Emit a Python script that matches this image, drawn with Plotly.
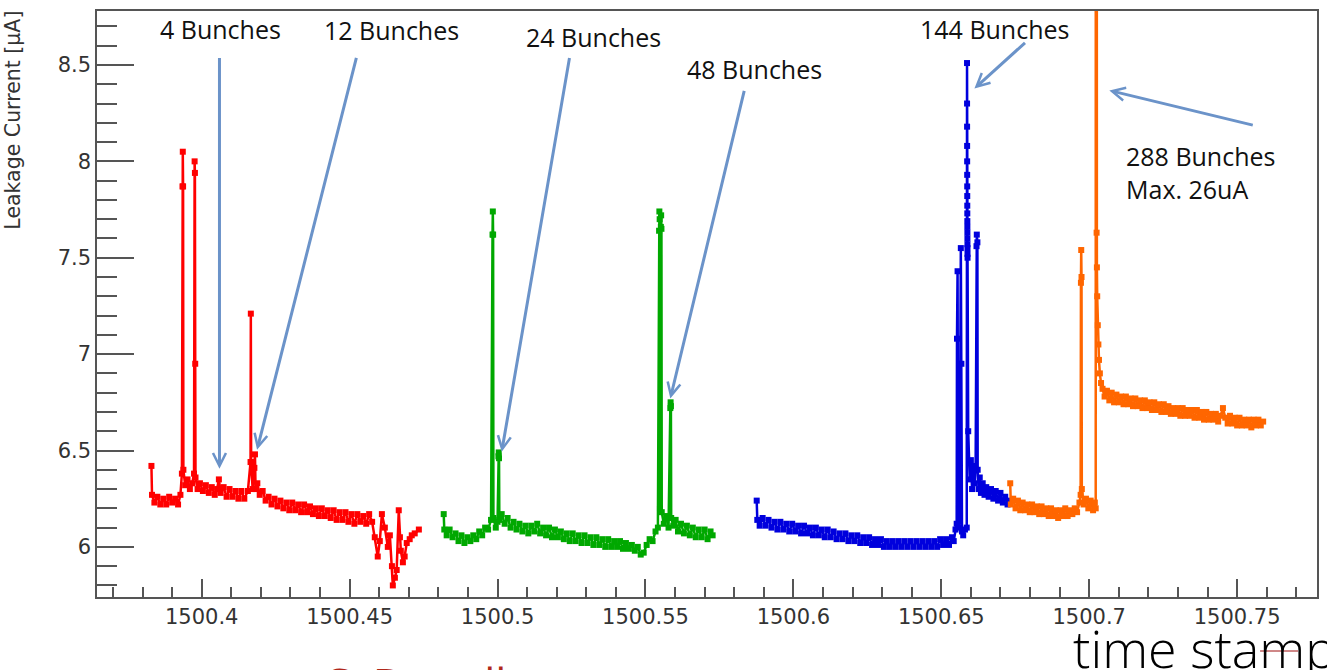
import plotly.graph_objects as go

# ---- Leakage current vs. time stamp, one series per fill ----
red_t = [1500.3830, 1500.3832, 1500.3840, 1500.3850, 1500.3860, 1500.3870, 1500.3880, 1500.3890, 1500.3900, 1500.3910,
         1500.3920, 1500.3928, 1500.3933, 1500.3935, 1500.3936, 1500.3937, 1500.3938, 1500.3944, 1500.3952, 1500.3960,
         1500.3968, 1500.3974, 1500.3976, 1500.3977, 1500.3978, 1500.3979, 1500.3986, 1500.3994, 1500.4004, 1500.4014,
         1500.4024, 1500.4034, 1500.4044, 1500.4052, 1500.4058, 1500.4064, 1500.4074, 1500.4084, 1500.4094, 1500.4104,
         1500.4114, 1500.4124, 1500.4134, 1500.4144, 1500.4156, 1500.4165, 1500.4166, 1500.4167, 1500.4172, 1500.4178,
         1500.4180, 1500.4182, 1500.4188, 1500.4196, 1500.4206, 1500.4216, 1500.4226, 1500.4236, 1500.4246, 1500.4256,
         1500.4266, 1500.4276, 1500.4286, 1500.4296, 1500.4306, 1500.4316, 1500.4326, 1500.4336, 1500.4346, 1500.4356,
         1500.4366, 1500.4376, 1500.4386, 1500.4396, 1500.4406, 1500.4416, 1500.4426, 1500.4436, 1500.4446, 1500.4456,
         1500.4466, 1500.4476, 1500.4486, 1500.4496, 1500.4506, 1500.4516, 1500.4526, 1500.4536, 1500.4546, 1500.4556,
         1500.4566, 1500.4576, 1500.4585, 1500.4595, 1500.4602, 1500.4609, 1500.4619, 1500.4629, 1500.4636, 1500.4643,
         1500.4646, 1500.4653, 1500.4659, 1500.4666, 1500.4670, 1500.4673, 1500.4680, 1500.4686, 1500.4693, 1500.4703,
         1500.4710, 1500.4720, 1500.4734]
red_i = [6.42, 6.27, 6.23, 6.26, 6.22, 6.25, 6.22, 6.26, 6.23, 6.25,
         6.22, 6.27, 6.38, 7.87, 8.05, 7.87, 6.40, 6.32, 6.35, 6.30,
         6.33, 6.38, 8.00, 7.94, 6.95, 6.36, 6.30, 6.33, 6.29, 6.32,
         6.28, 6.31, 6.27, 6.30, 6.35, 6.28, 6.31, 6.26, 6.30, 6.26,
         6.29, 6.25, 6.29, 6.25, 6.29, 6.44, 7.21, 6.44, 6.30, 6.41,
         6.48, 6.30, 6.33, 6.27, 6.29, 6.24, 6.26, 6.22, 6.25, 6.21,
         6.24, 6.20, 6.23, 6.19, 6.23, 6.19, 6.22, 6.18, 6.22, 6.18,
         6.21, 6.17, 6.20, 6.16, 6.20, 6.16, 6.19, 6.15, 6.19, 6.14,
         6.18, 6.14, 6.18, 6.13, 6.17, 6.12, 6.17, 6.13, 6.16, 6.12,
         6.17, 6.13, 6.05, 5.95, 6.03, 6.17, 6.10, 6.00, 6.06, 5.90,
         5.80, 5.84, 5.88, 6.19, 6.05, 5.98, 5.92, 5.95, 6.02, 6.04,
         6.06, 6.07, 6.09]

green_t = [1500.4818, 1500.4820, 1500.4828, 1500.4838, 1500.4848, 1500.4858, 1500.4868, 1500.4878, 1500.4888, 1500.4898,
           1500.4908, 1500.4918, 1500.4928, 1500.4938, 1500.4948, 1500.4958, 1500.4968, 1500.4978, 1500.4983, 1500.4984,
           1500.4985, 1500.4986, 1500.4994, 1500.5000, 1500.5003, 1500.5004, 1500.5005, 1500.5006, 1500.5014, 1500.5024,
           1500.5034, 1500.5044, 1500.5054, 1500.5064, 1500.5074, 1500.5084, 1500.5094, 1500.5104, 1500.5114, 1500.5124,
           1500.5134, 1500.5144, 1500.5154, 1500.5164, 1500.5174, 1500.5184, 1500.5194, 1500.5204, 1500.5214, 1500.5224,
           1500.5234, 1500.5244, 1500.5254, 1500.5264, 1500.5274, 1500.5284, 1500.5294, 1500.5304, 1500.5314, 1500.5324,
           1500.5334, 1500.5344, 1500.5354, 1500.5364, 1500.5374, 1500.5384, 1500.5394, 1500.5404, 1500.5414, 1500.5424,
           1500.5434, 1500.5444, 1500.5454, 1500.5464, 1500.5474, 1500.5484, 1500.5494, 1500.5504, 1500.5514, 1500.5524,
           1500.5534, 1500.5542, 1500.5546, 1500.5547, 1500.5548, 1500.5549, 1500.5552, 1500.5553, 1500.5554, 1500.5555,
           1500.5562, 1500.5570, 1500.5578, 1500.5584, 1500.5585, 1500.5586, 1500.5587, 1500.5594, 1500.5602, 1500.5610,
           1500.5620, 1500.5630, 1500.5640, 1500.5650, 1500.5660, 1500.5670, 1500.5680, 1500.5690, 1500.5700, 1500.5710,
           1500.5720, 1500.5727]
green_i = [6.17, 6.09, 6.06, 6.09, 6.05, 6.07, 6.03, 6.06, 6.02, 6.05,
           6.03, 6.06, 6.04, 6.08, 6.06, 6.10, 6.09, 6.14, 7.62, 7.74,
           7.62, 6.15, 6.10, 6.13, 6.47, 6.49, 6.46, 6.14, 6.17, 6.12,
           6.15, 6.10, 6.13, 6.09, 6.12, 6.08, 6.11, 6.07, 6.11, 6.08,
           6.12, 6.07, 6.10, 6.06, 6.10, 6.05, 6.09, 6.05, 6.08, 6.04,
           6.07, 6.03, 6.07, 6.03, 6.06, 6.02, 6.06, 6.02, 6.05, 6.01,
           6.05, 6.01, 6.04, 6.00, 6.04, 6.00, 6.03, 6.00, 6.03, 5.99,
           6.02, 5.99, 6.01, 5.98, 6.00, 5.96, 5.97, 6.01, 6.04, 6.03,
           6.08, 6.10, 7.64, 7.74, 7.70, 6.20, 7.66, 7.72, 7.65, 6.18,
           6.12, 6.16, 6.10, 6.72, 6.75, 6.73, 6.15, 6.11, 6.14, 6.08,
           6.12, 6.07, 6.11, 6.06, 6.10, 6.05, 6.09, 6.05, 6.09, 6.04,
           6.08, 6.06]

blue_t = [1500.5876, 1500.5878, 1500.5886, 1500.5896, 1500.5906, 1500.5916, 1500.5926, 1500.5936, 1500.5946, 1500.5956,
          1500.5966, 1500.5976, 1500.5986, 1500.5996, 1500.6006, 1500.6016, 1500.6026, 1500.6036, 1500.6046, 1500.6056,
          1500.6066, 1500.6076, 1500.6086, 1500.6096, 1500.6106, 1500.6116, 1500.6126, 1500.6136, 1500.6146, 1500.6156,
          1500.6166, 1500.6176, 1500.6186, 1500.6196, 1500.6206, 1500.6216, 1500.6226, 1500.6236, 1500.6246, 1500.6256,
          1500.6266, 1500.6276, 1500.6286, 1500.6296, 1500.6306, 1500.6316, 1500.6326, 1500.6336, 1500.6346, 1500.6356,
          1500.6366, 1500.6376, 1500.6386, 1500.6396, 1500.6406, 1500.6416, 1500.6426, 1500.6436, 1500.6446, 1500.6456,
          1500.6466, 1500.6476, 1500.6486, 1500.6496, 1500.6506, 1500.6516, 1500.6526, 1500.6536, 1500.6542, 1500.6548,
          1500.6552, 1500.6553, 1500.6555, 1500.6557, 1500.6562, 1500.6566, 1500.6568, 1500.6570, 1500.6574, 1500.6580,
          1500.6586, 1500.6587, 1500.65871, 1500.65872, 1500.65873, 1500.65874, 1500.65875, 1500.65876, 1500.65877, 1500.65878,
          1500.65879, 1500.65880, 1500.65881, 1500.65882, 1500.65883, 1500.65884, 1500.65885, 1500.65886, 1500.65887, 1500.6591,
          1500.6596, 1500.6600, 1500.6604, 1500.6608, 1500.6612, 1500.6616, 1500.6619, 1500.6620, 1500.6622, 1500.6623,
          1500.6626, 1500.6630, 1500.6634, 1500.6640, 1500.6646, 1500.6652, 1500.6660, 1500.6668, 1500.6676, 1500.6684,
          1500.6692, 1500.6700, 1500.6708, 1500.6716, 1500.6724, 1500.6730]
blue_i = [6.24, 6.14, 6.11, 6.15, 6.11, 6.14, 6.10, 6.13, 6.09, 6.13,
          6.09, 6.12, 6.08, 6.12, 6.08, 6.11, 6.07, 6.11, 6.07, 6.10,
          6.06, 6.10, 6.06, 6.09, 6.05, 6.09, 6.05, 6.08, 6.04, 6.07,
          6.04, 6.07, 6.03, 6.06, 6.03, 6.06, 6.02, 6.05, 6.02, 6.05,
          6.01, 6.04, 6.01, 6.04, 6.00, 6.03, 6.00, 6.03, 6.00, 6.03,
          6.00, 6.03, 6.00, 6.03, 6.00, 6.03, 6.00, 6.03, 6.00, 6.03,
          6.00, 6.03, 6.00, 6.04, 6.01, 6.04, 6.01, 6.05, 6.03, 6.09,
          6.12, 7.08, 7.43, 6.10, 6.13, 7.55, 6.95, 6.08, 6.06, 6.09,
          6.10, 8.51, 8.30, 8.18, 8.08, 8.00, 7.93, 7.87, 7.82, 7.77,
          7.73, 7.69, 7.66, 7.63, 7.60, 7.57, 7.55, 7.52, 7.50, 6.60,
          6.35, 6.45, 6.30, 6.42, 6.33, 6.40, 7.56, 7.62, 7.58, 6.40,
          6.30, 6.36, 6.28, 6.33, 6.27, 6.31, 6.26, 6.30, 6.25, 6.29,
          6.24, 6.28, 6.23, 6.26, 6.22, 6.24]

orange_t = [1500.6733, 1500.6735, 1500.6743, 1500.6751, 1500.6759, 1500.6767, 1500.6775, 1500.6783, 1500.6791, 1500.6799,
            1500.6807, 1500.6815, 1500.6823, 1500.6831, 1500.6839, 1500.6847, 1500.6855, 1500.6863, 1500.6871, 1500.6879,
            1500.6887, 1500.6895, 1500.6903, 1500.6911, 1500.6919, 1500.6927, 1500.6935, 1500.6943, 1500.6951, 1500.6959,
            1500.6967, 1500.6971, 1500.6972, 1500.6973, 1500.6974, 1500.6975, 1500.6981, 1500.6989, 1500.6997, 1500.7005,
            1500.7013, 1500.7019, 1500.7022, 1500.7023, 1500.7024, 1500.7025, 1500.7026, 1500.7027, 1500.7029, 1500.7031,
            1500.7033, 1500.7036, 1500.7040, 1500.7045, 1500.7052, 1500.7060, 1500.7068, 1500.7076, 1500.7084, 1500.7092,
            1500.7100, 1500.7108, 1500.7116, 1500.7124, 1500.7132, 1500.7140, 1500.7148, 1500.7156, 1500.7164, 1500.7172,
            1500.7180, 1500.7188, 1500.7196, 1500.7204, 1500.7212, 1500.7220, 1500.7228, 1500.7236, 1500.7244, 1500.7252,
            1500.7260, 1500.7268, 1500.7276, 1500.7284, 1500.7292, 1500.7300, 1500.7308, 1500.7316, 1500.7324, 1500.7332,
            1500.7340, 1500.7348, 1500.7356, 1500.7364, 1500.7372, 1500.7380, 1500.7388, 1500.7396, 1500.7404, 1500.7412,
            1500.7420, 1500.7428, 1500.7436, 1500.7444, 1500.7452, 1500.7460, 1500.7468, 1500.7476, 1500.7484, 1500.7492,
            1500.7500, 1500.7508, 1500.7516, 1500.7524, 1500.7532, 1500.7540, 1500.7548, 1500.7556, 1500.7564, 1500.7572,
            1500.7580, 1500.7588]
orange_i = [6.33, 6.22, 6.25, 6.20, 6.24, 6.19, 6.23, 6.19, 6.22, 6.18,
            6.22, 6.18, 6.21, 6.17, 6.21, 6.17, 6.20, 6.16, 6.20, 6.16,
            6.19, 6.15, 6.19, 6.16, 6.20, 6.16, 6.19, 6.17, 6.20, 6.18,
            6.23, 6.27, 7.37, 7.54, 7.40, 6.30, 6.22, 6.25, 6.20, 6.24,
            6.19, 6.23, 6.20, 26.0, 9.50, 7.63, 7.45, 7.30, 7.15, 7.05,
            6.97, 6.90, 6.85, 6.82, 6.78, 6.81, 6.76, 6.80, 6.75, 6.79,
            6.75, 6.78, 6.74, 6.78, 6.74, 6.77, 6.73, 6.77, 6.73, 6.76,
            6.72, 6.76, 6.72, 6.75, 6.71, 6.75, 6.71, 6.74, 6.70, 6.74,
            6.70, 6.73, 6.69, 6.72, 6.69, 6.72, 6.68, 6.72, 6.68, 6.71,
            6.68, 6.71, 6.67, 6.71, 6.67, 6.70, 6.66, 6.70, 6.66, 6.69,
            6.66, 6.69, 6.65, 6.68, 6.72, 6.67, 6.64, 6.68, 6.64, 6.67,
            6.63, 6.67, 6.63, 6.66, 6.63, 6.66, 6.62, 6.66, 6.63, 6.66,
            6.63, 6.65]

# axis ticks
x_tick_vals = [1500.40, 1500.45, 1500.50, 1500.55, 1500.60, 1500.65, 1500.70, 1500.75]
x_tick_text = ["1500.4", "1500.45", "1500.5", "1500.55", "1500.6", "1500.65", "1500.7", "1500.75"]
y_tick_vals = [6.0, 6.5, 7.0, 7.5, 8.0, 8.5]
y_tick_text = ["6", "6.5", "7", "7.5", "8", "8.5"]

series = [
    (red_t, red_i, "#ff0000"),
    (green_t, green_i, "#00a800"),
    (blue_t, blue_i, "#0000dd"),
    (orange_t, orange_i, "#ff6600"),
]

W, H = 1327, 670
L, R, T, B = 97, 8, 11, 73


def px_x(p):
    return (p - L) / (W - L - R)


def px_y(p):
    return (H - B - p) / (H - T - B)


fig = go.Figure()
for t, i, c in series:
    fig.add_trace(go.Scatter(
        x=t, y=i, mode="lines+markers",
        line=dict(color=c, width=2.5),
        marker=dict(color=c, size=6, symbol="square"),
        hoverinfo="x+y",
    ))

axis_col = "#555555"
tick_font = dict(family="DejaVu Sans", size=21, color="#333333")

fig.update_xaxes(
    range=[1500.3646, 1500.777],
    tickmode="array", tickvals=x_tick_vals, ticktext=x_tick_text,
    ticks="inside", ticklen=18, tickwidth=1.5, tickcolor=axis_col,
    minor=dict(tickmode="linear", tick0=1500.4, dtick=0.01, ticks="inside",
               ticklen=10, tickwidth=1.5, tickcolor=axis_col, showgrid=False),
    showline=True, linecolor=axis_col, linewidth=1.5, mirror=True,
    showgrid=False, zeroline=False, tickfont=tick_font,
)
fig.update_yaxes(
    range=[5.74, 8.78],
    tickmode="array", tickvals=y_tick_vals, ticktext=y_tick_text,
    ticks="inside", ticklen=37, tickwidth=1.5, tickcolor=axis_col,
    minor=dict(tickmode="linear", tick0=6.0, dtick=0.1, ticks="inside",
               ticklen=20, tickwidth=1.5, tickcolor=axis_col, showgrid=False),
    showline=True, linecolor=axis_col, linewidth=1.5, mirror=True,
    showgrid=False, zeroline=False, tickfont=tick_font,
)

label_font = dict(family="Open Sans", size=25, color="#111111")
arrow_col = "#6b93c9"

annotations = [
    # y-axis title, ROOT style: aligned to the top of the axis
    dict(text="Leakage Current [µA]", textangle=-90, xref="paper", yref="paper",
         x=px_x(13), y=px_y(9), xanchor="center", yanchor="top", showarrow=False,
         font=dict(family="DejaVu Sans", size=20.5, color="#333333")),
    dict(text="4 Bunches", x=px_x(221), y=px_y(29)),
    dict(text="12 Bunches", x=px_x(392), y=px_y(30)),
    dict(text="24 Bunches", x=px_x(594), y=px_y(37)),
    dict(text="48 Bunches", x=px_x(756), y=px_y(69)),
    dict(text="144 Bunches", x=px_x(996), y=px_y(29)),
    dict(text="288 Bunches<br>Max. 26uA", x=px_x(1126), y=px_y(172), xanchor="left", align="left"),
]
for a in annotations[1:]:
    a.setdefault("xanchor", "center")
    a.update(xref="paper", yref="paper", yanchor="middle", showarrow=False, font=label_font)

# arrows: (tail x, tail y) -> (head x, head y) in data coordinates
arrows = [
    ((1500.4060, 8.544), (1500.4060, 6.405)),
    ((1500.4524, 8.544), (1500.4187, 6.504)),
    ((1500.5244, 8.544), (1500.5014, 6.493)),
    ((1500.5835, 8.373), (1500.5584, 6.770)),
    ((1500.6788, 8.622), (1500.6612, 8.378)),
    ((1500.7558, 8.186), (1500.7068, 8.368)),
]
for (tx, ty), (hx, hy) in arrows:
    annotations.append(dict(
        text="", x=hx, y=hy, ax=tx, ay=ty, xref="x", yref="y", axref="x", ayref="y",
        showarrow=True, arrowhead=5, arrowsize=0.85, arrowwidth=3, arrowcolor=arrow_col,
        standoff=0, startstandoff=0,
    ))

# slide footer text, mostly below the bottom edge of the page
annotations.append(dict(
    text="C. Bertella", xref="paper", yref="paper", x=px_x(320), y=px_y(683),
    xanchor="left", yanchor="middle", showarrow=False,
    font=dict(family="Open Sans", size=44, color="#b0281a"),
))
annotations.append(dict(
    text="time stamp", xref="paper", yref="paper", x=px_x(1073), y=px_y(647),
    xanchor="left", yanchor="middle", showarrow=False,
    font=dict(family="Open Sans", size=52, color="#000000", weight=300),
))

fig.update_layout(
    width=W, height=H,
    margin=dict(l=L, r=R, t=T, b=B),
    paper_bgcolor="white", plot_bgcolor="white",
    showlegend=False,
    annotations=annotations,
    shapes=[dict(type="line", xref="paper", yref="paper",
                 x0=px_x(1262), x1=px_x(1300), y0=px_y(651), y1=px_y(651),
                 line=dict(color="#a01010", width=1))],
)

fig.write_html("out.html")
